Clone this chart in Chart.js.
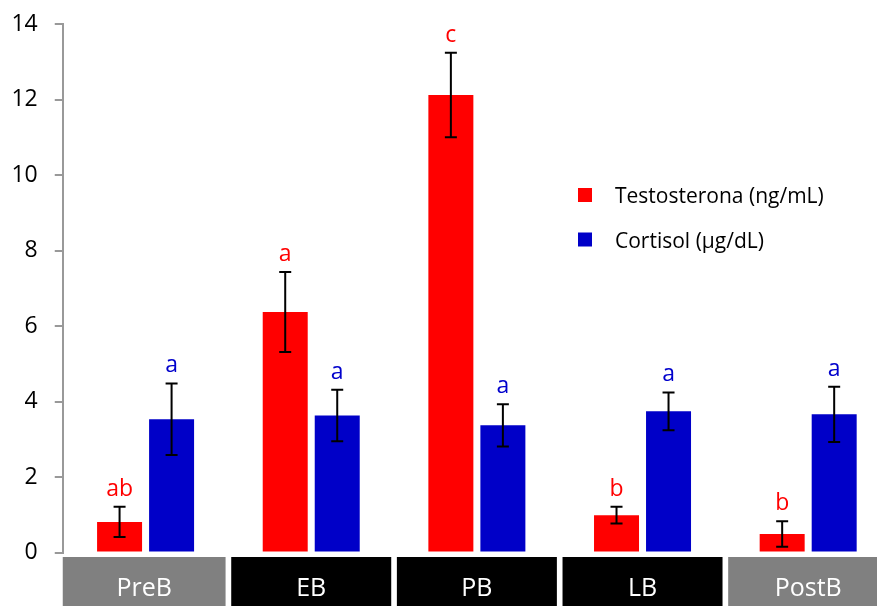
<!DOCTYPE html>
<html>
<head>
<meta charset="utf-8">
<script src="https://cdn.jsdelivr.net/npm/chart.js@4.4.1/dist/chart.umd.min.js"></script>
<style>
  html, body { margin: 0; padding: 0; background: #fff; overflow: hidden; }
  #wrap { width: 877px; height: 606px; overflow: hidden; }
</style>
</head>
<body>
<div id="wrap"><canvas id="Grafico" width="891" height="606"></canvas></div>
<script>
// Dados
const categorias = ['PreB', 'EB', 'PB', 'LB', 'PostB'];
const testosterona = [0.81, 6.37, 12.12, 0.99, 0.49];
const testosteronaErro = [0.40, 1.06, 1.12, 0.22, 0.34];
const testosteronaLetras = ['ab', 'a', 'c', 'b', 'b'];
const cortisol = [3.53, 3.63, 3.37, 3.74, 3.66];
const cortisolErro = [0.95, 0.68, 0.56, 0.50, 0.73];
const cortisolLetras = ['a', 'a', 'a', 'a', 'a'];
const yTicks = [0, 2, 4, 6, 8, 10, 12, 14];

// Cores das caixas de categoria (estilo)
const corCaixa = ['#808080', '#000000', '#000000', '#000000', '#808080'];
const FONTE = '"Open Sans", sans-serif';

// Barras de erro e letras de significância
const errorBars = {
  id: 'errorBars',
  afterDatasetsDraw(chart) {
    const ctx = chart.ctx;
    const y = chart.scales.y;
    ctx.save();
    chart.data.datasets.forEach((ds, di) => {
      const meta = chart.getDatasetMeta(di);
      meta.data.forEach((bar, i) => {
        const v = ds.data[i], e = ds.errors[i];
        const yTop = y.getPixelForValue(v + e);
        const yBot = y.getPixelForValue(v - e);
        ctx.strokeStyle = '#000';
        ctx.lineWidth = 2;
        ctx.beginPath();
        ctx.moveTo(bar.x, yTop); ctx.lineTo(bar.x, yBot);
        ctx.moveTo(bar.x - 6, yTop); ctx.lineTo(bar.x + 6, yTop);
        ctx.moveTo(bar.x - 6, yBot); ctx.lineTo(bar.x + 6, yBot);
        ctx.stroke();
        ctx.fillStyle = ds.letterColor;
        ctx.font = '23px ' + FONTE;
        ctx.textAlign = 'center';
        ctx.textBaseline = 'alphabetic';
        ctx.fillText(ds.letters[i], bar.x, yTop - 11);
      });
    });
    ctx.restore();
  }
};

// Caixas com os nomes das categorias e legenda
const caixasLegenda = {
  id: 'caixasLegenda',
  afterDraw(chart) {
    const ctx = chart.ctx;
    const x = chart.scales.x;
    const area = chart.chartArea;
    ctx.save();
    categorias.forEach((c, i) => {
      const cx = x.getPixelForValue(i);
      const left = i === 0 ? area.left : cx - 80;
      const right = cx + 80;
      ctx.fillStyle = corCaixa[i];
      ctx.fillRect(left, 557, right - left, 60);
      ctx.fillStyle = '#fff';
      ctx.font = '25px ' + FONTE;
      ctx.textAlign = 'center';
      ctx.textBaseline = 'alphabetic';
      ctx.fillText(c, (left + right) / 2, 596);
    });
    chart.data.datasets.forEach((ds, di) => {
      const top = 188 + di * 44.5;
      ctx.fillStyle = ds.backgroundColor;
      ctx.fillRect(578, top, 14, 14);
      ctx.fillStyle = '#000';
      ctx.font = '21px ' + FONTE;
      ctx.textAlign = 'left';
      ctx.fillText(ds.label, 615, top + 15);
    });
    ctx.restore();
  }
};

new Chart(document.getElementById('Grafico'), {
  type: 'bar',
  data: {
    labels: categorias,
    datasets: [
      {
        label: 'Testosterona (ng/mL)',
        data: testosterona,
        errors: testosteronaErro,
        letters: testosteronaLetras,
        letterColor: '#ff0000',
        backgroundColor: '#ff0000',
        categoryPercentage: 0.628,
        barPercentage: 0.865
      },
      {
        label: 'Cortisol (µg/dL)',
        data: cortisol,
        errors: cortisolErro,
        letters: cortisolLetras,
        letterColor: '#0000cc',
        backgroundColor: '#0000c8',
        categoryPercentage: 0.628,
        barPercentage: 0.865
      }
    ]
  },
  options: {
    responsive: false,
    animation: false,
    layout: { padding: { top: 24, bottom: 53.5, right: 0, left: 0 } },
    plugins: { legend: { display: false }, tooltip: { enabled: false } },
    scales: {
      x: { display: false },
      y: {
        min: 0,
        max: 14,
        afterFit(s) { s.width = 62.75; },
        afterBuildTicks(s) { s.ticks = yTicks.map(v => ({ value: v })); },
        border: { color: '#999', width: 2 },
        grid: { drawOnChartArea: false, color: '#999', tickLength: 8, lineWidth: 2 },
        ticks: { color: '#000', font: { family: FONTE, size: 23, lineHeight: 0.5 }, padding: 17 }
      }
    }
  },
  plugins: [errorBars, caixasLegenda]
});
</script>
</body>
</html>
